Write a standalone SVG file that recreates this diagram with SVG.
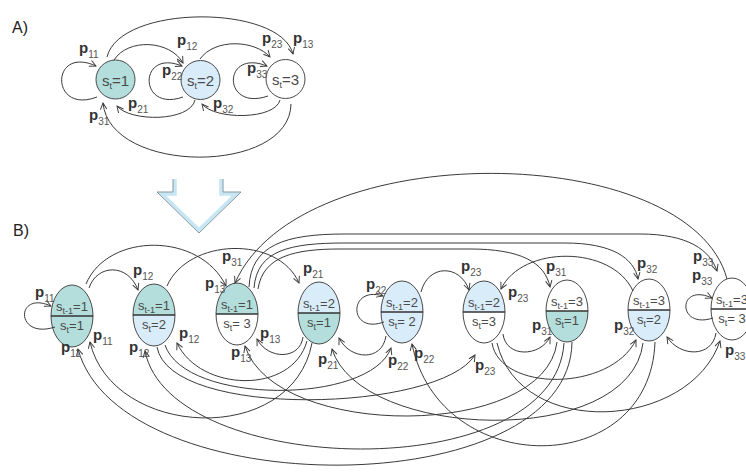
<svg xmlns="http://www.w3.org/2000/svg" xmlns:xlink="http://www.w3.org/1999/xlink" width="746" height="474" viewBox="0 0 746 474">
<style>
.c{fill:none;stroke:#3a3a3a;stroke-width:1;marker-end:url(#ah)}
.cn{fill:none;stroke:#3a3a3a;stroke-width:1}
.teal{fill:#b3dedc}
.blue{fill:#d9ecfa}
.white{fill:#ffffff}
.ol{fill:none;stroke:#4a4a4a;stroke-width:1}
.dv{stroke:#333;stroke-width:1.6}
.nt{font-family:"Liberation Sans",Arial,sans-serif;font-size:13px;fill:#4a4a4a;text-anchor:middle}
.at{font-family:"Liberation Sans",Arial,sans-serif;font-size:15px;fill:#4a4a4a;text-anchor:middle}
.sb{font-size:9px}
.lab{font-family:"Liberation Sans",Arial,sans-serif;font-size:15px;font-weight:bold;fill:#333}
.ls{font-size:10px;font-weight:normal;fill:#555}
.hd{font-family:"Liberation Sans",Arial,sans-serif;font-size:16px;fill:#222}
</style>
<defs>
<marker id="ah" viewBox="0 0 10 10" refX="9" refY="5" markerWidth="8" markerHeight="8" markerUnits="userSpaceOnUse" orient="auto">
<path d="M1,1 L9,5 L1,9" fill="none" stroke="#3a3a3a" stroke-width="1.2"/>
</marker>
<path id="top" d="M-21,0 A21,31 0 0 1 21,0 Z"/>
<path id="bot" d="M-21,0 A21,31 0 0 0 21,0 Z"/>
<ellipse id="ring" cx="0" cy="0" rx="21" ry="31"/>
</defs>
<rect width="746" height="474" fill="#fff"/>

<text class="hd" x="12" y="33">A)</text>
<text class="hd" x="13" y="236">B)</text>

<!-- A nodes -->
<g id="a1"><circle cx="115.5" cy="79.5" r="19.5" class="teal" stroke="#4a4a4a"/><text class="at" x="115.5" y="86">s<tspan class="sb" font-size="10" dy="3">t</tspan><tspan dy="-3">=1</tspan></text></g>
<g id="a2"><circle cx="200.5" cy="80" r="19.5" class="blue" stroke="#4a4a4a"/><text class="at" x="200.5" y="86">s<tspan class="sb" font-size="10" dy="3">t</tspan><tspan dy="-3">=2</tspan></text></g>
<g id="a3"><circle cx="285.5" cy="79" r="19.5" class="white" stroke="#4a4a4a"/><text class="at" x="285.5" y="85">s<tspan class="sb" font-size="10" dy="3">t</tspan><tspan dy="-3">=3</tspan></text></g>

<!-- block arrow -->
<g id="bigarrow">
<polyline points="175,179 175,194 162,194 199,230 236,194 221,194 221,179" fill="#fff" stroke="#c6e6f4" stroke-width="3.5"/>
<polyline points="173,179 173,192 157,192 199,233 241,192 223,192 223,179" fill="none" stroke="#6b7f88" stroke-width="0.8"/>
</g>

<!-- B nodes -->
<g id="n11" transform="translate(72,316)"><use href="#top" class="teal"/><use href="#bot" class="teal"/><use href="#ring" class="ol"/><line class="dv" x1="-21" y1="0" x2="21" y2="0"/><text class="nt" y="-5">s<tspan class="sb" dy="3">t-1</tspan><tspan dy="-3">=1</tspan></text><text class="nt" y="14">s<tspan class="sb" dy="3">t</tspan><tspan dy="-3">=1</tspan></text></g>
<g id="n12" transform="translate(154,315)"><use href="#top" class="teal"/><use href="#bot" class="blue"/><use href="#ring" class="ol"/><line class="dv" x1="-21" y1="0" x2="21" y2="0"/><text class="nt" y="-5">s<tspan class="sb" dy="3">t-1</tspan><tspan dy="-3">=1</tspan></text><text class="nt" y="14">s<tspan class="sb" dy="3">t</tspan><tspan dy="-3">=2</tspan></text></g>
<g id="n13" transform="translate(237,314)"><use href="#top" class="teal"/><use href="#bot" class="white"/><use href="#ring" class="ol"/><line class="dv" x1="-21" y1="0" x2="21" y2="0"/><text class="nt" y="-5">s<tspan class="sb" dy="3">t-1</tspan><tspan dy="-3">=1</tspan></text><text class="nt" y="14">s<tspan class="sb" dy="3">t</tspan><tspan dy="-3">= 3</tspan></text></g>
<g id="n21" transform="translate(319,313)"><use href="#top" class="blue"/><use href="#bot" class="teal"/><use href="#ring" class="ol"/><line class="dv" x1="-21" y1="0" x2="21" y2="0"/><text class="nt" y="-5">s<tspan class="sb" dy="3">t-1</tspan><tspan dy="-3">=2</tspan></text><text class="nt" y="14">s<tspan class="sb" dy="3">t</tspan><tspan dy="-3">=1</tspan></text></g>
<g id="n22" transform="translate(402,312)"><use href="#top" class="blue"/><use href="#bot" class="blue"/><use href="#ring" class="ol"/><line class="dv" x1="-21" y1="0" x2="21" y2="0"/><text class="nt" y="-5">s<tspan class="sb" dy="3">t-1</tspan><tspan dy="-3">=2</tspan></text><text class="nt" y="14">s<tspan class="sb" dy="3">t</tspan><tspan dy="-3">= 2</tspan></text></g>
<g id="n23" transform="translate(484,312)"><use href="#top" class="blue"/><use href="#bot" class="white"/><use href="#ring" class="ol"/><line class="dv" x1="-21" y1="0" x2="21" y2="0"/><text class="nt" y="-5">s<tspan class="sb" dy="3">t-1</tspan><tspan dy="-3">=2</tspan></text><text class="nt" y="14">s<tspan class="sb" dy="3">t</tspan><tspan dy="-3">=3</tspan></text></g>
<g id="n31" transform="translate(567,311)"><use href="#top" class="white"/><use href="#bot" class="teal"/><use href="#ring" class="ol"/><line class="dv" x1="-21" y1="0" x2="21" y2="0"/><text class="nt" y="-5">s<tspan class="sb" dy="3">t-1</tspan><tspan dy="-3">=3</tspan></text><text class="nt" y="14">s<tspan class="sb" dy="3">t</tspan><tspan dy="-3">=1</tspan></text></g>
<g id="n32" transform="translate(649,310)"><use href="#top" class="white"/><use href="#bot" class="blue"/><use href="#ring" class="ol"/><line class="dv" x1="-21" y1="0" x2="21" y2="0"/><text class="nt" y="-5">s<tspan class="sb" dy="3">t-1</tspan><tspan dy="-3">=3</tspan></text><text class="nt" y="14">s<tspan class="sb" dy="3">t</tspan><tspan dy="-3">=2</tspan></text></g>
<g id="n33" transform="translate(732,309)"><use href="#top" class="white"/><use href="#bot" class="white"/><use href="#ring" class="ol"/><line class="dv" x1="-21" y1="0" x2="21" y2="0"/><text class="nt" y="-5">s<tspan class="sb" dy="3">t-1</tspan><tspan dy="-3">=3</tspan></text><text class="nt" y="14">s<tspan class="sb" dy="3">t</tspan><tspan dy="-3">= 3</tspan></text></g>

<!-- connectors -->
<g id="connectors">
<!-- A -->
<path class="c" d="M97,97 C50,115 50,45 96,66"/>
<path class="c" d="M183,97 C138,113 138,48 182,66"/>
<path class="c" d="M268,96 C222,112 222,48 267,66"/>
<path class="c" d="M114,60 C128,38 170,40 183,63"/>
<path class="c" d="M200,59 C215,38 255,40 270,57"/>
<path class="c" d="M107,57 C120,4 280,4 293,54"/>
<path class="c" d="M195,100 C190,122 130,122 117,106"/>
<path class="c" d="M280,100 C275,120 215,120 202,104"/>
<path class="c" d="M291,104 C290,175 110,175 103,103"/>
<!-- B loops -->
<path class="c" d="M55,327 C15,340 15,290 51,306"/>
<path class="c" d="M384,322 C348,335 348,285 383,296"/>
<path class="c" d="M713,318 C677,330 677,282 712,298"/>
<!-- B top arcs -->
<path class="c" d="M89,288 C97,264 128,263 138,290"/>
<path class="c" d="M86,284 C108,232 200,232 226,286"/>
<path class="c" d="M167,286 C188,238 278,235 299,283"/>
<path class="c" d="M421,292 C428,264 460,264 469,290"/>
<path class="c" d="M633,291 C612,245 522,245 501,289"/>
<path class="c" d="M258,289 C263,256 295,249 340,249 L470,249 C520,249 545,262 550,287"/>
<path class="c" d="M254,288 C257,250 290,243 345,243 L565,243 C612,243 634,258 638,279"/>
<path class="c" d="M249,287 C251,245 285,234 345,234 L640,234 C688,234 710,250 717,271"/>
<path class="c" d="M727,279 C690,140 300,135 235,283"/>
<!-- B short bottom arcs -->
<path class="c" d="M303,337 C300,360 268,360 257,339"/>
<path class="c" d="M386,336 C382,362 350,360 339,338"/>
<path class="c" d="M503,334 C506,358 540,357 550,337"/>
<path class="c" d="M716,333 C712,358 680,357 667,337"/>
<!-- B long bottom arcs -->
<path class="c" d="M312,343 C292,448 112,438 90,342"/>
<path class="c" d="M572,342 C570,505 120,505 78,349"/>
<path class="c" d="M564,343 C555,488 170,478 145,351"/>
<path class="c" d="M557,342 C545,440 275,440 245,346"/>
<path class="c" d="M307,341 C292,395 200,392 177,343"/>
<path class="c" d="M165,345 C185,405 370,405 391,348"/>
<path class="c" d="M157,347 C170,420 440,412 475,355"/>
<path class="c" d="M643,343 C630,450 360,440 332,349"/>
<path class="c" d="M655,342 C650,480 440,480 412,344"/>
<path class="c" d="M492,343 C500,392 610,392 636,340"/>
<path class="c" d="M497,343 C520,440 690,430 720,341"/>
</g>

<!-- labels -->
<g id="labels">
<text class="lab" x="79" y="53">p<tspan class="ls" dy="5">11</tspan></text>
<text class="lab" x="177" y="45">p<tspan class="ls" dy="5">12</tspan></text>
<text class="lab" x="293" y="43">p<tspan class="ls" dy="5">13</tspan></text>
<text class="lab" x="262" y="43">p<tspan class="ls" dy="5">23</tspan></text>
<text class="lab" x="162" y="75">p<tspan class="ls" dy="5">22</tspan></text>
<text class="lab" x="247" y="73">p<tspan class="ls" dy="5">33</tspan></text>
<text class="lab" x="128" y="108">p<tspan class="ls" dy="5">21</tspan></text>
<text class="lab" x="213" y="108">p<tspan class="ls" dy="5">32</tspan></text>
<text class="lab" x="89" y="120">p<tspan class="ls" dy="5">31</tspan></text>

<text class="lab" x="35" y="297">p<tspan class="ls" dy="5">11</tspan></text>
<text class="lab" x="133" y="275">p<tspan class="ls" dy="5">12</tspan></text>
<text class="lab" x="205" y="288">p<tspan class="ls" dy="5">13</tspan></text>
<text class="lab" x="222" y="261">p<tspan class="ls" dy="5">31</tspan></text>
<text class="lab" x="303" y="273">p<tspan class="ls" dy="5">21</tspan></text>
<text class="lab" x="366" y="289">p<tspan class="ls" dy="5">22</tspan></text>
<text class="lab" x="461" y="271">p<tspan class="ls" dy="5">23</tspan></text>
<text class="lab" x="508" y="297">p<tspan class="ls" dy="5">23</tspan></text>
<text class="lab" x="546" y="271">p<tspan class="ls" dy="5">31</tspan></text>
<text class="lab" x="637" y="268">p<tspan class="ls" dy="5">32</tspan></text>
<text class="lab" x="693" y="261">p<tspan class="ls" dy="5">33</tspan></text>
<text class="lab" x="692" y="280">p<tspan class="ls" dy="5">33</tspan></text>
<text class="lab" x="93" y="340">p<tspan class="ls" dy="5">11</tspan></text>
<text class="lab" x="61" y="352">p<tspan class="ls" dy="5">11</tspan></text>
<text class="lab" x="179" y="338">p<tspan class="ls" dy="5">12</tspan></text>
<text class="lab" x="129" y="352">p<tspan class="ls" dy="5">12</tspan></text>
<text class="lab" x="260" y="338">p<tspan class="ls" dy="5">13</tspan></text>
<text class="lab" x="231" y="357">p<tspan class="ls" dy="5">13</tspan></text>
<text class="lab" x="318" y="364">p<tspan class="ls" dy="5">21</tspan></text>
<text class="lab" x="388" y="365">p<tspan class="ls" dy="5">22</tspan></text>
<text class="lab" x="414" y="358">p<tspan class="ls" dy="5">22</tspan></text>
<text class="lab" x="475" y="370">p<tspan class="ls" dy="5">23</tspan></text>
<text class="lab" x="532" y="330">p<tspan class="ls" dy="5">31</tspan></text>
<text class="lab" x="614" y="330">p<tspan class="ls" dy="5">32</tspan></text>
<text class="lab" x="725" y="355">p<tspan class="ls" dy="5">33</tspan></text>
</g>
</svg>
